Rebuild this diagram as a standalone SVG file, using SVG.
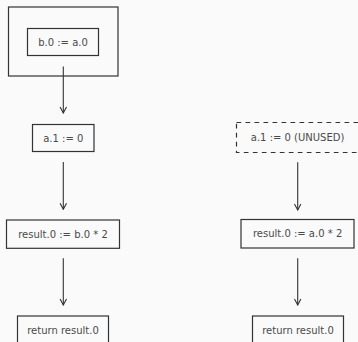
<svg xmlns="http://www.w3.org/2000/svg" width="358" height="342" viewBox="0 0 358 342">
<defs>
<style>
.box{fill:none;stroke:#333;stroke-width:1.2}
.dash{fill:none;stroke:#333;stroke-width:1.2;stroke-dasharray:4.7 4.3}
.lbl{font-family:"DejaVu Sans","Liberation Sans",sans-serif;font-size:10px;fill:#4a4a4a;text-anchor:middle;dominant-baseline:central}
.edge{stroke:#333;stroke-width:1.1;fill:none;marker-end:url(#arr)}
</style>
<marker id="arr" viewBox="0 0 8 8" refX="7" refY="4" markerWidth="8" markerHeight="8" markerUnits="userSpaceOnUse" orient="auto">
<path d="M1,0.8 L7,4 L1,7.2" fill="none" stroke="#333" stroke-width="1.1"/>
</marker>
</defs>
<rect width="358" height="342" fill="#fafafa"/>
<g id="outer">
<rect class="box" x="8.5" y="7" width="109.5" height="69"/>
</g>
<g id="n_b0">
<rect class="box" x="27.5" y="28.5" width="71" height="27"/>
<text class="lbl" x="63" y="42">b.0 := a.0</text>
</g>
<g id="n_a1">
<rect class="box" x="32.5" y="124.5" width="61.5" height="27"/>
<text class="lbl" x="63.3" y="138">a.1 := 0</text>
</g>
<g id="n_res_l">
<rect class="box" x="6.5" y="220" width="113" height="28.3"/>
<text class="lbl" x="63" y="234.2">result.0 := b.0 * 2</text>
</g>
<g id="n_ret_l">
<rect class="box" x="17.5" y="316" width="91" height="30"/>
<text class="lbl" x="63" y="330.7">return result.0</text>
</g>
<g id="n_a1_unused">
<rect class="dash" x="236.5" y="122.5" width="126" height="30"/>
<text class="lbl" x="297.6" y="137.5">a.1 := 0 (UNUSED)</text>
</g>
<g id="n_res_r">
<rect class="box" x="241" y="219.5" width="113" height="28.5"/>
<text class="lbl" x="297.6" y="233.8">result.0 := a.0 * 2</text>
</g>
<g id="n_ret_r">
<rect class="box" x="252.5" y="316" width="91" height="30"/>
<text class="lbl" x="298" y="330.7">return result.0</text>
</g>
<g id="connectors">
<line class="edge" x1="63.3" y1="66.5" x2="63.3" y2="113"/>
<line class="edge" x1="63.3" y1="162" x2="63.3" y2="209.3"/>
<line class="edge" x1="63.3" y1="258.3" x2="63.3" y2="305"/>
<line class="edge" x1="297.7" y1="162.3" x2="297.7" y2="210"/>
<line class="edge" x1="297.7" y1="258.3" x2="297.7" y2="305"/>
</g>
</svg>
